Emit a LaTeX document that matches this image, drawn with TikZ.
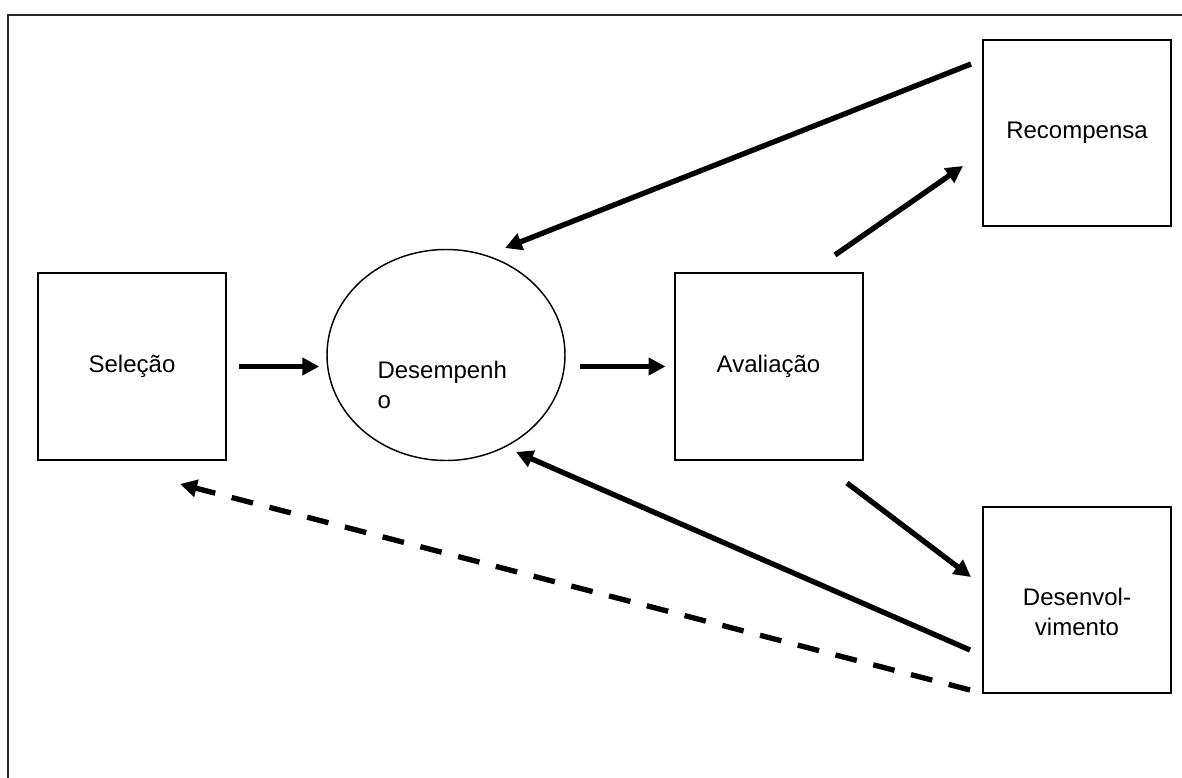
\documentclass[tikz,border=0pt]{standalone}
\usepackage{fontspec}
\setmainfont{Liberation Sans}
\usetikzlibrary{arrows.meta,shapes.geometric}

\tikzset{every picture/.style={line width=0.75pt}}
\tikzset{
  caixa/.style={draw, line width=1.5pt, minimum width=141pt, minimum height=140pt, inner sep=0pt, align=center, font=\fontsize{18}{22.5}\selectfont},
  elipse/.style={draw, ellipse, line width=1.1pt, minimum width=178.5pt, minimum height=158.25pt, inner sep=0pt},
  texto/.style={inner sep=0pt, font=\fontsize{18}{22.5}\selectfont},
  seta/.style={line width=4pt, -{Triangle[length=12.75pt,width=12.75pt]}},
  tracejada/.style={seta, dash pattern=on 16.5pt off 12.75pt}
}

\begin{document}
\begin{tikzpicture}[x=0.75pt,y=0.75pt,yscale=-1,xscale=1]
%set diagram size 1182 x 778
\clip (0,0) rectangle (1182,778);

%Shape: Frame
\draw [line width=1.5pt, color={rgb, 255:red, 40; green, 40; blue, 40 }] (8,15) rectangle (1200,800);

%Boxes
\node [caixa] (sel) at (132,366.5) {Seleção};
\node [elipse] (des) at (446,355) {};
\node [texto, align=left, anchor=west] (destxt) at (377,385) {Desempenh\\o};
\node [caixa] (ava) at (768.5,366.5) {Avaliação};
\node [caixa] (rec) at (1077,133) {Recompensa};
\node [caixa] (dev) at (1077,600) {};
\node [texto, align=center] (devtxt) at (1077,612) {Desenvol-\\vimento};

%Arrow ends
\coordinate (r1) at (971,64);
\coordinate (d1) at (505,248);
\coordinate (a1) at (835,255);
\coordinate (r2) at (963,166);
\coordinate (a2) at (847,483);
\coordinate (v1) at (971,577);
\coordinate (v2) at (970,650);
\coordinate (d2) at (516,452);
\coordinate (v3) at (970,690);
\coordinate (s1) at (180,484);

%Straight Lines
\draw [seta, shorten <=9pt, shorten >=5.25pt] (sel.east) -- (sel.east -| des.west);
\draw [seta, shorten <=10.5pt, shorten >=6pt] (ava.west -| des.east) -- (ava.west);
\draw [seta] (r1) -- (d1);
\draw [seta] (a1) -- (r2);
\draw [seta] (a2) -- (v1);
\draw [seta] (v2) -- (d2);
\draw [tracejada] (v3) -- (s1);

\end{tikzpicture}
\end{document}
